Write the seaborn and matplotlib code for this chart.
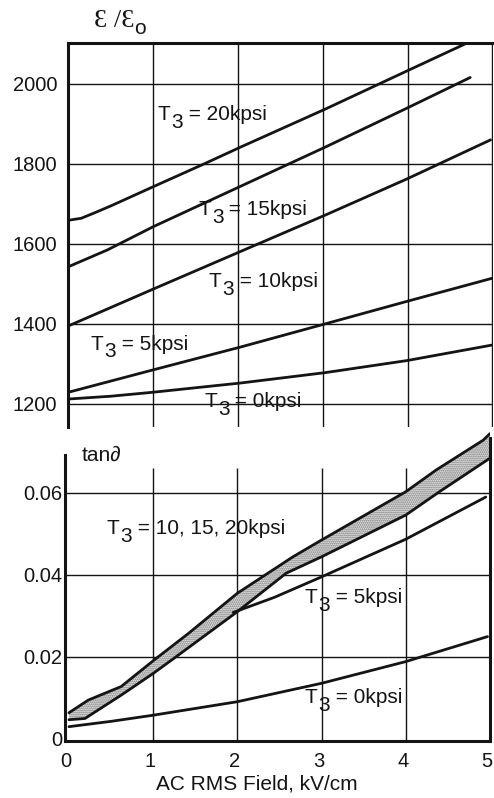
import numpy as np
import pandas as pd
import matplotlib
matplotlib.use("Agg")
import matplotlib.pyplot as plt
import matplotlib.transforms as mtransforms
import seaborn as sns

# ---------------- data ----------------
# upper panel: relative permittivity vs AC RMS field
field_20 = [0.0, 0.15, 0.3, 0.5, 1.0, 1.6, 2.02, 3.03, 3.99, 4.68]
eps_20 = [1659, 1664, 1677, 1695, 1743, 1800, 1841, 1937, 2032, 2100]
field_15 = [0.0, 0.46, 1.0, 2.02, 3.03, 3.99, 4.74]
eps_15 = [1543, 1585, 1643, 1743, 1842, 1939, 2016]
field_10 = [0.0, 1.0, 2.03, 3.03, 3.99, 4.98]
eps_10 = [1395, 1487, 1581, 1672, 1762, 1860]
field_5 = [0.0, 1.0, 2.03, 3.03, 3.99, 5.0]
eps_5 = [1229, 1285, 1342, 1400, 1456, 1514]
field_0 = [0.0, 0.5, 1.0, 2.03, 3.03, 3.99, 5.0]
eps_0 = [1212, 1219, 1229, 1252, 1278, 1308, 1347]

eps_ticks = [1200, 1400, 1600, 1800, 2000]
field_grid = [1, 2, 3, 4, 5]

# lower panel: loss tangent vs AC RMS field
band_up_x = [0.0, 0.23, 0.62, 1.0, 1.42, 2.0, 2.66, 3.0, 4.0, 4.36, 4.92, 5.0]
band_up_y = [0.0063, 0.0094, 0.0127, 0.019, 0.0257, 0.0355, 0.0444, 0.0485,
             0.0603, 0.0656, 0.0729, 0.0745]
band_lo_x = [0.0, 0.19, 0.62, 1.0, 1.3, 2.0, 2.58, 3.0, 4.0, 4.4, 5.0]
band_lo_y = [0.0046, 0.0049, 0.0106, 0.0159, 0.0204, 0.031, 0.0404, 0.0444,
             0.0546, 0.0603, 0.0685]
tan5_x = [1.95, 2.44, 3.0, 4.0, 4.95]
tan5_y = [0.0308, 0.0345, 0.0395, 0.0487, 0.059]
tan0_x = [0.0, 0.5, 1.0, 2.0, 3.0, 4.0, 4.97]
tan0_y = [0.0029, 0.0042, 0.0057, 0.009, 0.0135, 0.0188, 0.0249]

tan_ticks = [0, 0.02, 0.04, 0.06]
tan_tick_labels = ["0", "0.02", "0.04", "0.06"]
field_ticks = [0, 1, 2, 3, 4, 5]
field_tick_labels = ["0", "1", "2", "3", "4", "5"]

# ---------------- style ----------------
sns.set_theme(style="white")
plt.rcParams["font.family"] = ["Liberation Sans", "DejaVu Sans"]
plt.rcParams["hatch.linewidth"] = 0.9
INK = "#141414"
LW = 2.0

W, H = 494, 798
fig = plt.figure(figsize=(W / 100, H / 100), dpi=100)


def frac(l, t, r, b):
    return [l / W, 1 - b / H, (r - l) / W, (b - t) / H]


ax1 = fig.add_axes(frac(67.5, 42.7, 492.5, 427))
ax2 = fig.add_axes(frac(65, 429.5, 490, 741))
ax2.patch.set_alpha(0)


def curve(ax, xs, ys):
    df = pd.DataFrame({"x": xs, "y": ys})
    sns.lineplot(data=df, x="x", y="y", ax=ax, color=INK, linewidth=LW,
                 sort=False, estimator=None, zorder=3)


def tlabel(ax, x, y, rest, fs=15, drop=5.5):
    t1 = ax.text(x, y, "T", fontsize=fs, ha="left", va="baseline",
                 color=INK, zorder=5)
    t2 = ax.annotate("3", xy=(1, 0), xycoords=t1, xytext=(0.6, -drop),
                     textcoords="offset points", fontsize=fs, ha="left",
                     va="bottom", color=INK, zorder=5)
    ax.annotate(rest, xy=(1, 0), xycoords=t2, xytext=(0, drop),
                textcoords="offset points", fontsize=fs, ha="left",
                va="bottom", color=INK, zorder=5)


# ---------------- upper panel ----------------
for xs, ys in [(field_20, eps_20), (field_15, eps_15), (field_10, eps_10),
               (field_5, eps_5), (field_0, eps_0)]:
    curve(ax1, xs, ys)

ax1.set_xlim(-0.013, 5.003)
ax1.set_ylim(1142, 2103)
ax1.set_xticks(field_grid)
ax1.set_xticklabels([])
ax1.set_yticks(eps_ticks)
ax1.set_yticklabels([str(v) for v in eps_ticks])
ax1.set_axisbelow(True)
ax1.grid(True, color=INK, linewidth=1.0)
ax1.tick_params(length=0, labelsize=14.5, pad=7.5, colors=INK)
ax1.set_xlabel("")
ax1.set_ylabel("")
for side in ["right", "bottom"]:
    ax1.spines[side].set_visible(False)
for side in ["top", "left"]:
    ax1.spines[side].set_linewidth(2.2)
    ax1.spines[side].set_color(INK)

tlabel(ax1, 1.05, 1910, " = 20kpsi")
tlabel(ax1, 1.53, 1672, " = 15kpsi")
tlabel(ax1, 1.65, 1492, " = 10kpsi")
tlabel(ax1, 0.26, 1335, " = 5kpsi")
tlabel(ax1, 1.60, 1192, " = 0kpsi")

# title  ε/εo
tt = fig.text(94 / W, 1 - 27 / H, "Ɛ /Ɛ", fontsize=19,
              family=["Liberation Serif", "DejaVu Serif"], va="baseline",
              ha="left", color=INK)
ax1.annotate("o", xy=(1, 0), xycoords=tt, xytext=(0.0, -4.0),
             textcoords="offset points", fontsize=15, ha="left",
             va="bottom", color=INK)

# ---------------- lower panel ----------------
ax2.set_xlim(-0.047, 4.994)
ax2.set_ylim(-0.0006, 0.0755)

ax2.fill(np.r_[band_up_x, band_lo_x[::-1]], np.r_[band_up_y, band_lo_y[::-1]],
         facecolor="#e9e9e9", edgecolor="#707070", hatch="........",
         linewidth=0, zorder=2)
curve(ax2, band_up_x, band_up_y)
curve(ax2, band_lo_x, band_lo_y)
curve(ax2, tan5_x, tan5_y)
curve(ax2, tan0_x, tan0_y)

for v in tan_ticks[1:]:
    ax2.axhline(v, color=INK, linewidth=1.0, zorder=1)
ax2.vlines(field_grid[:-1], -0.0006, 0.066, color=INK, linewidth=1.0, zorder=1)

ax2.set_xticks(field_ticks)
ax2.set_xticklabels(field_tick_labels)
ax2.set_yticks(tan_ticks)
ax2.set_yticklabels(tan_tick_labels)
ax2.tick_params(axis="both", length=0, labelsize=14.5, colors=INK)
ax2.tick_params(axis="x", pad=8)
ax2.tick_params(axis="y", pad=2)
shift = mtransforms.ScaledTranslation(-3 / 100, 0, fig.dpi_scale_trans)
for lab in ax2.get_xticklabels():
    lab.set_transform(lab.get_transform() + shift)
ax2.set_xlabel("")
ax2.set_ylabel("")
ax2.grid(False)
ax2.spines["top"].set_visible(False)
for side in ["left", "right", "bottom"]:
    ax2.spines[side].set_linewidth(2.2)
    ax2.spines[side].set_color(INK)
ax2.spines["left"].set_bounds(-0.0006, 0.0693)
ax2.spines["right"].set_bounds(-0.0006, 0.0735)

tlabel(ax2, 0.447, 0.0500, " = 10, 15, 20kpsi")
tlabel(ax2, 2.80, 0.0331, " = 5kpsi")
tlabel(ax2, 2.80, 0.0087, " = 0kpsi")

fig.text(82 / W, 1 - 455 / H, "tan∂", fontsize=15, ha="left", va="center",
         color=INK)
fig.text(257 / W, 1 - 784 / H, "AC RMS Field, kV/cm", fontsize=15,
         ha="center", va="center", color=INK)

fig.savefig("out.png", dpi=100)
